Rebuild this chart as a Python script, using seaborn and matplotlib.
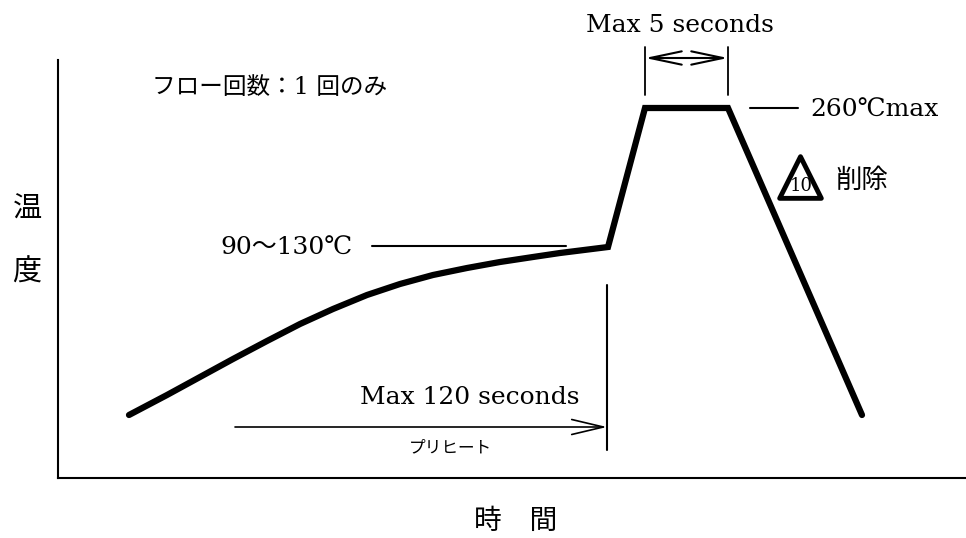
import matplotlib as mpl
mpl.use("Agg")
import matplotlib.pyplot as plt
import pandas as pd
import seaborn as sns

# reflow profile (time / temperature in drawing units)
profile_time = [129, 167, 200, 233, 267, 300, 333, 367, 400, 433, 467, 500, 533,
                560, 608, 645, 728, 862]
profile_temp = [123, 143, 161, 179, 197, 214, 229, 243, 254, 263, 270, 276, 281,
                285, 291, 430, 430, 123]

preheat_start, preheat_end = 235, 607
peak_start, peak_end = 645, 728
preheat_level = 292
peak_level = 430

label_preheat_temp = "90〜130℃"
label_peak_temp = "260℃max"
label_peak_time = "Max 5 seconds"
label_preheat_time = "Max 120 seconds"
label_preheat = "プリヒート"
label_flow = "フロー回数：1 回のみ"
label_deleted = "削除"
label_rev = "10"
label_x = "時　間"
label_y = ["温", "度"]

sns.set_theme(style="white")
plt.rcParams["font.family"] = ["DejaVu Serif", "Noto Sans CJK JP"]
plt.rcParams["text.color"] = "black"
cjk = ["Noto Sans CJK JP", "DejaVu Sans"]

fig = plt.figure(figsize=(9.66, 5.38), dpi=100)
ax = fig.add_axes([0, 0, 1, 1])
ax.set_xlim(0, 966)
ax.set_ylim(0, 538)
ax.set_xticks([])
ax.set_yticks([])

# axis lines as spines
for side in ["top", "right"]:
    ax.spines[side].set_visible(False)
ax.spines["left"].set_position(("data", 58))
ax.spines["left"].set_bounds(60, 478)
ax.spines["bottom"].set_position(("data", 60))
ax.spines["bottom"].set_bounds(58, 966)
for side in ["left", "bottom"]:
    ax.spines[side].set_color("black")
    ax.spines[side].set_linewidth(1.5)

df = pd.DataFrame({"time": profile_time, "temp": profile_temp})
sns.lineplot(data=df, x="time", y="temp", sort=False, color="black",
             linewidth=4.5, ax=ax, solid_capstyle="round", solid_joinstyle="miter")
ax.set_xlabel("")
ax.set_ylabel("")

# leader lines
ax.plot([372, 566], [preheat_level, preheat_level], color="black", lw=1.5)
ax.plot([750, 798], [peak_level, peak_level], color="black", lw=1.5)

# preheat time marker
ax.plot([preheat_end, preheat_end], [88, 253], color="black", lw=1.5)
ax.annotate("", xy=(preheat_end, 111), xytext=(preheat_start, 111),
            arrowprops=dict(arrowstyle="->,head_length=1.9,head_width=0.45",
                            color="black", lw=1.2, shrinkA=0, shrinkB=0))

# peak time bracket
for x in [peak_start, peak_end]:
    ax.plot([x, x], [443, 491], color="black", lw=1.3)
ax.annotate("", xy=(peak_end, 480), xytext=(peak_start, 480),
            arrowprops=dict(arrowstyle="<->,head_length=1.9,head_width=0.4",
                            color="black", lw=1.5, shrinkA=0, shrinkB=0))

# texts
ax.text(680, 513, label_peak_time, fontsize=18, ha="center", va="center")
ax.text(360, 141, label_preheat_time, fontsize=18, ha="left", va="center")
ax.text(220, 290, label_preheat_temp, fontsize=18, ha="left", va="center")
ax.text(810, 428, label_peak_temp, fontsize=18, ha="left", va="center")
ax.text(152, 451, label_flow, fontsize=17, ha="left", va="center")
ax.text(450, 90, label_preheat, fontsize=12, ha="center", va="center", family=cjk)
ax.text(516, 17, label_x, fontsize=20, ha="center", va="center", family=cjk)
ax.text(27, 328, label_y[0], fontsize=21, ha="center", va="center", family=cjk)
ax.text(27, 265, label_y[1], fontsize=21, ha="center", va="center", family=cjk)

# revision mark
ax.scatter([800], [361], marker="^", s=30 ** 2, facecolor="white",
           edgecolor="black", linewidth=3.5, zorder=3)
ax.text(801, 352, label_rev, fontsize=13, ha="center", va="center", zorder=4)
ax.text(835, 358, label_deleted, fontsize=19, ha="left", va="center", family=cjk)

plt.savefig("out.png", dpi=100, facecolor="white")
plt.close()
